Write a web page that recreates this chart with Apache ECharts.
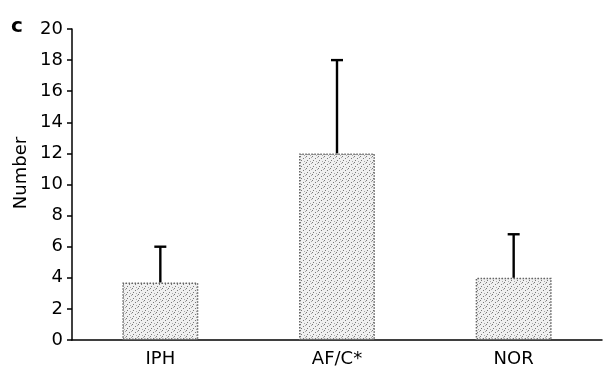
<!DOCTYPE html>
<html>
<head>
<meta charset="utf-8">
<script src="https://cdn.jsdelivr.net/npm/echarts@6/dist/echarts.min.js"></script>
<style>
  html, body { margin: 0; padding: 0; background: #fff; }
  #chart { width: 609px; height: 372px; }
</style>
</head>
<body>
<div id="chart"></div>
<script>
var categories = ['IPH', 'AF/C*', 'NOR'];
var means = [3.7, 12.0, 4.0];
var upperErr = [6.0, 18.0, 6.8];
var yTicks = [0, 2, 4, 6, 8, 10, 12, 14, 16, 18, 20];

// stippled fill for the bars
function stipple() {
    var c = document.createElement('canvas');
    c.width = 6; c.height = 6;
    var ctx = c.getContext('2d');
    ctx.fillStyle = '#f0f0f0';
    ctx.fillRect(0, 0, 6, 6);
    ctx.fillStyle = '#7a7a7a';
    ctx.fillRect(0, 0, 1, 1);
    ctx.fillRect(3, 2, 1, 1);
    ctx.fillRect(1, 4, 1, 1);
    ctx.fillStyle = '#aaaaaa';
    ctx.fillRect(4, 5, 1, 1);
    ctx.fillRect(5, 1, 1, 1);
    return c;
}

var myChart = echarts.init(document.getElementById('chart'));
var font = 'DejaVu Sans, Arial, sans-serif';

var option = {
    animation: false,
    grid: { left: 72, right: 7, top: 29, bottom: 32 },
    graphic: [
        {
            type: 'text', x: 17, y: 27,
            style: { text: 'c', font: 'bold 20px ' + font, fill: '#000', align: 'center', verticalAlign: 'middle' }
        },
        {
            type: 'text', x: 21, y: 173, rotation: Math.PI / 2,
            style: { text: 'Number', font: '18px ' + font, fill: '#000', align: 'center', verticalAlign: 'middle' }
        }
    ],
    xAxis: {
        type: 'category',
        data: categories,
        axisLine: { lineStyle: { color: '#000', width: 1.5 } },
        axisTick: { inside: true, length: 6, lineStyle: { color: '#000', width: 1.5 } },
        axisLabel: { color: '#000', fontSize: 18, fontFamily: font, margin: 10 }
    },
    yAxis: {
        type: 'value',
        min: 0, max: 20, interval: 2,
        splitLine: { show: false },
        axisLine: { show: true, lineStyle: { color: '#000', width: 1.5 } },
        axisTick: { show: true, length: 5, lineStyle: { color: '#000', width: 1.5 } },
        axisLabel: {
            color: '#000', fontSize: 18, fontFamily: font, margin: 9,
            formatter: function (v) { return yTicks.indexOf(v) >= 0 ? String(v) : ''; }
        }
    },
    series: [
        {
            type: 'bar',
            data: means,
            barWidth: '43%',
            itemStyle: {
                color: { image: stipple(), repeat: 'repeat' },
                borderColor: '#666',
                borderWidth: 1.5,
                borderType: 'dotted'
            },
            z: 2
        },
        {
            type: 'custom',
            data: categories.map(function (c, i) { return [i, means[i], upperErr[i]]; }),
            renderItem: function (params, api) {
                var base = api.coord([api.value(0), api.value(1)]);
                var top = api.coord([api.value(0), api.value(2)]);
                var hw = 6;
                var st = { stroke: '#000', lineWidth: 2.4 };
                return {
                    type: 'group',
                    children: [
                        { type: 'line', shape: { x1: base[0], y1: base[1], x2: top[0], y2: top[1] }, style: st },
                        { type: 'line', shape: { x1: top[0] - hw, y1: top[1], x2: top[0] + hw, y2: top[1] }, style: st }
                    ]
                };
            },
            z: 3
        }
    ]
};

myChart.setOption(option);
</script>
</body>
</html>
